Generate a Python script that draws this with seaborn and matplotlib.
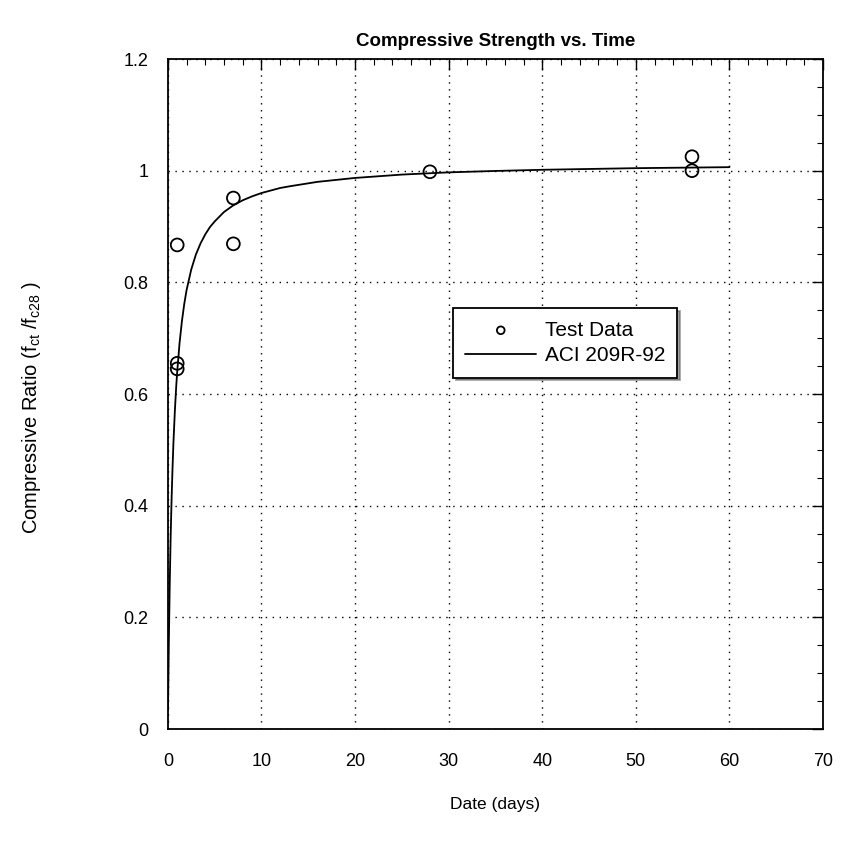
import matplotlib
matplotlib.use("Agg")
import matplotlib.pyplot as plt
import seaborn as sns
import pandas as pd
from matplotlib.ticker import MultipleLocator, FuncFormatter

# Test data (days, ratio)
test_days = [1, 1, 1, 7, 7, 28, 56, 56]
test_ratio = [0.867, 0.655, 0.645, 0.951, 0.869, 0.998, 1.025, 1.0]

# ACI 209R-92 curve
aci_days = [0.02, 0.05, 0.1, 0.2, 0.3, 0.4, 0.5, 0.6, 0.75, 0.9, 1, 1.25, 1.5,
            1.75, 2, 2.5, 3, 3.5, 4, 4.5, 5, 6, 7, 8, 9, 10, 12, 13, 16, 20,
            25, 30, 35, 40, 50, 60]
aci_ratio = [0.034, 0.080, 0.148, 0.258, 0.344, 0.412, 0.467, 0.514, 0.570,
             0.615, 0.640, 0.691, 0.730, 0.761, 0.786, 0.823, 0.850, 0.870,
             0.886, 0.899, 0.909, 0.926, 0.938, 0.947, 0.954, 0.960, 0.969,
             0.972, 0.980, 0.987, 0.993, 0.997, 0.9995, 1.0016, 1.0045, 1.0063]

sns.set_style("white")
plt.rcParams['font.family'] = ['Liberation Sans', 'DejaVu Sans']
plt.rcParams['mathtext.fontset'] = 'custom'
plt.rcParams['mathtext.rm'] = 'Liberation Sans'
plt.rcParams['mathtext.it'] = 'Liberation Sans'
plt.rcParams['text.color'] = 'black'
plt.rcParams['axes.labelcolor'] = 'black'
plt.rcParams['xtick.color'] = 'black'
plt.rcParams['ytick.color'] = 'black'

fig = plt.figure(figsize=(8.52, 8.49), dpi=100)
ax = fig.add_axes([0.197, 0.1413, 0.769, 0.7892])

df_test = pd.DataFrame({"days": test_days, "ratio": test_ratio})
df_aci = pd.DataFrame({"days": aci_days, "ratio": aci_ratio})

sns.lineplot(data=df_aci, x="days", y="ratio", ax=ax, color="black",
             linewidth=1.3, label="ACI 209R-92", zorder=3)
sns.scatterplot(data=df_test, x="days", y="ratio", ax=ax, marker="o",
                s=85, facecolor="none", edgecolor="black", linewidth=1.3,
                label="Test Data", zorder=4)

ax.set_xlim(0, 70)
ax.set_ylim(0, 1.2)
ax.xaxis.set_major_locator(MultipleLocator(10))
ax.xaxis.set_minor_locator(MultipleLocator(2))
ax.yaxis.set_major_locator(MultipleLocator(0.2))
ax.yaxis.set_minor_locator(MultipleLocator(0.05))
ax.yaxis.set_major_formatter(FuncFormatter(lambda v, p: f"{v:g}"))
ax.tick_params(which="both", direction="in", top=True, right=True,
               labelsize=13, color="black", labelcolor="black")
ax.tick_params(axis="x", which="major", length=8, width=1, pad=17)
ax.tick_params(axis="y", which="major", length=8, width=1, pad=14)
ax.tick_params(which="minor", length=4, width=0.8)
ax.grid(True, which="major", linestyle=(0, (1, 4)), color="black", linewidth=1)
for s in ax.spines.values():
    s.set_color("black")
    s.set_linewidth(1.3)

ax.set_title("Compressive Strength vs. Time", fontsize=13.5, fontweight="bold",
             pad=9.5, color="black")
ax.set_xlabel("Date (days)", fontsize=12.5, labelpad=20)
ax.set_ylabel("Compressive Ratio (f$_{ct}$ /f$_{c28}$ )", fontsize=14.5)
ax.yaxis.set_label_coords(-0.19, 0.48)

handles, labels = ax.get_legend_handles_labels()
order = [labels.index("Test Data"), labels.index("ACI 209R-92")]
leg = ax.legend([handles[i] for i in order], [labels[i] for i in order],
                loc="upper left", bbox_to_anchor=(0.435, 0.628),
                frameon=True, fancybox=False, shadow=True, fontsize=15,
                edgecolor="black", framealpha=1, borderpad=0.6,
                labelspacing=0.3, handlelength=3.4, handletextpad=0.4,
                markerscale=0.6, borderaxespad=0)
leg.get_frame().set_linewidth(1.3)

fig.savefig("out.png", dpi=100)
